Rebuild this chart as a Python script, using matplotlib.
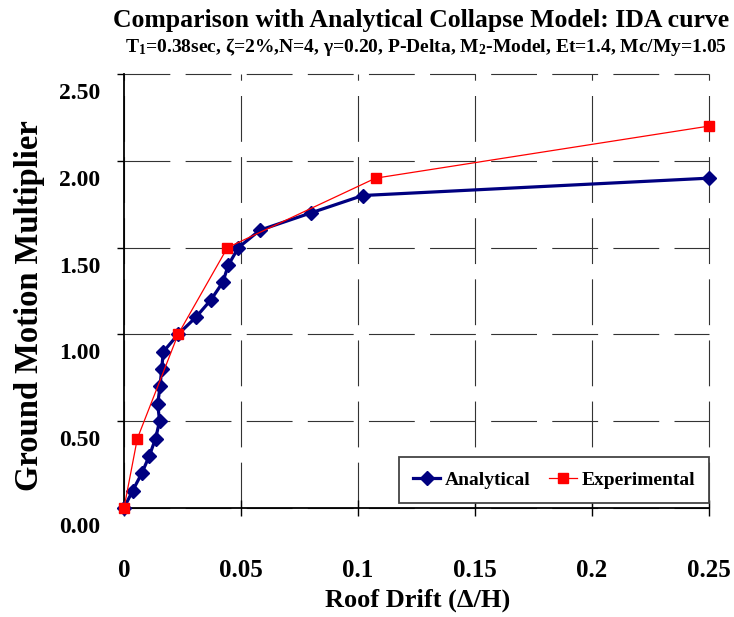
import numpy as np
import matplotlib
matplotlib.use("Agg")
import matplotlib.pyplot as plt
from matplotlib.transforms import ScaledTranslation

plt.rcParams["font.family"] = ["Liberation Serif", "DejaVu Serif"]
plt.rcParams["font.weight"] = "bold"
plt.rcParams["mathtext.fontset"] = "custom"
plt.rcParams["mathtext.rm"] = "Liberation Serif:bold"
plt.rcParams["mathtext.it"] = "Liberation Serif:bold"
plt.rcParams["mathtext.bf"] = "Liberation Serif:bold"
plt.rcParams["lines.scale_dashes"] = False

# данные
analytical_x = [0, 0.0037, 0.0076, 0.0108, 0.0135, 0.0152, 0.0144, 0.0154, 0.0161, 0.0168,
                0.0231, 0.0308, 0.0372, 0.0422, 0.0446, 0.0489, 0.058, 0.0799, 0.102, 0.25]
analytical_y = [0.0, 0.1, 0.2, 0.3, 0.4, 0.5, 0.6, 0.7, 0.8, 0.9,
                1.0, 1.1, 1.2, 1.3, 1.4, 1.5, 1.6, 1.7, 1.8, 1.9]

experimental_x = [0, 0.0057, 0.0231, 0.0442, 0.1075, 0.25]
experimental_y = [0.0, 0.4, 1.0, 1.5, 1.9, 2.2]

x_ticks = [0, 0.05, 0.1, 0.15, 0.2, 0.25]
x_tick_labels = ["0", "0.05", "0.1", "0.15", "0.2", "0.25"]
y_ticks = [0.0, 0.5, 1.0, 1.5, 2.0, 2.5]
y_tick_labels = ["0.00", "0.50", "1.00", "1.50", "2.00", "2.50"]

fig = plt.figure(figsize=(7.34, 6.17), dpi=100)
ax = fig.add_axes([124 / 734, 1 - 508 / 617, 585 / 734, 434 / 617])

ax.plot(analytical_x, analytical_y, color="#000080", linewidth=2.3, marker="D",
        markersize=7, label="Analytical", clip_on=False, zorder=3)
ax.plot(experimental_x, experimental_y, color="red", linewidth=0.9, marker="s",
        markersize=6.5, label="Experimental", clip_on=False, zorder=4)

ax.set_xlim(0, 0.25)
ax.set_ylim(0, 2.5)
ax.set_xticks(x_ticks)
ax.set_xticklabels(x_tick_labels, fontsize=18, fontweight="bold")
ax.set_yticks(y_ticks)
ax.set_yticklabels(y_tick_labels, fontsize=17, fontweight="bold")

ax.tick_params(axis="x", direction="inout", length=11, width=1, pad=31)
ax.tick_params(axis="y", direction="out", length=5, width=1, pad=12)

# подписи по оси Y сдвинуты немного вниз, как в оригинале
offset = ScaledTranslation(0, -0.17, fig.dpi_scale_trans)
for lbl in ax.get_yticklabels():
    lbl.set_transform(lbl.get_transform() + offset)

ax.grid(True, color="#333333", linewidth=0.8, linestyle=(0, (33, 11)))
for line in ax.get_xgridlines() + ax.get_ygridlines():
    line.set_clip_on(False)

for side in ["top", "right"]:
    ax.spines[side].set_visible(False)
for side in ["left", "bottom"]:
    ax.spines[side].set_linewidth(1.3)
    ax.spines[side].set_color("black")

leg = ax.legend(loc="lower right", bbox_to_anchor=(1.0, 0.012), borderaxespad=0,
                ncol=2, fancybox=False, framealpha=1, edgecolor="#444444",
                prop={"family": "Liberation Serif", "weight": "bold", "size": 14},
                handlelength=1.4, columnspacing=0.95, borderpad=0.72, handletextpad=0.25)
leg.get_frame().set_linewidth(1.3)

fig.text(421 / 734, 1 - 20 / 617, "Comparison with Analytical Collapse Model: IDA curve",
         ha="center", va="center", fontsize=18.5, fontweight="bold")
fig.text(426 / 734, 1 - 47 / 617,
         r"T$_1$=0.38sec, ζ=2%,N=4, γ=0.20, P-Delta, M$_2$-Model, Et=1.4, Mc/My=1.05",
         ha="center", va="center", fontsize=14, fontweight="bold")
fig.text(30 / 734, 1 - 306 / 617, "Ground Motion Multiplier", rotation=90,
         ha="center", va="center", fontsize=23.5, fontweight="bold")
fig.text(418 / 734, 1 - 600 / 617, "Roof Drift (Δ/H)",
         ha="center", va="center", fontsize=19, fontweight="bold")

fig.savefig("out.png", dpi=100)
